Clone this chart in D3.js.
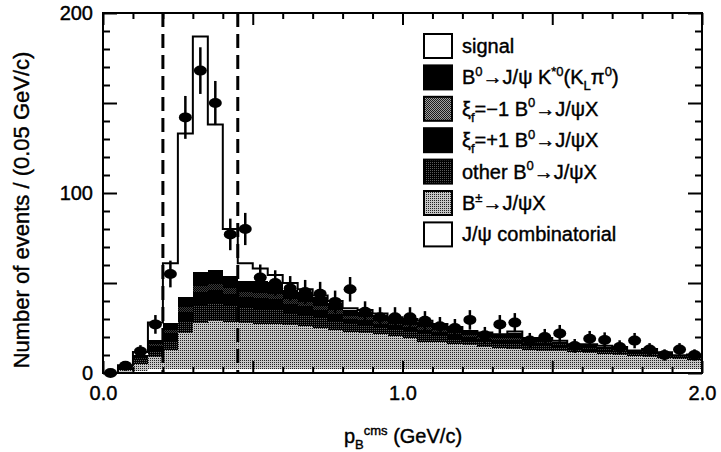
<!DOCTYPE html>
<html>
<head>
<meta charset="utf-8">
<script src="https://cdn.jsdelivr.net/npm/d3@7"></script>
<style>
  body { margin: 0; background: #fff; }
  svg  { display: block; font-family: "Liberation Sans", Arial, Helvetica, sans-serif; }
  text { stroke: #000; stroke-width: 0.4px; }
</style>
</head>
<body>
<svg id="chart" width="721" height="452"></svg>
<script>
// ── data: p_B^cms bins of 0.05 GeV/c (lower edges) ──────────────
const binLo = [0.00,0.05,0.10,0.15,0.20,0.25,0.30,0.35,0.40,0.45,
               0.50,0.55,0.60,0.65,0.70,0.75,0.80,0.85,0.90,0.95,
               1.00,1.05,1.10,1.15,1.20,1.25,1.30,1.35,1.40,1.45,
               1.50,1.55,1.60,1.65,1.70,1.75,1.80,1.85,1.90,1.95];
const binW = 0.05;

// stacked MC components, bottom → top (events / bin)
const comb    = [0,0.5,1,2,2.5,2.5,2.5,2.5,2.5,2.5, 2.5,2.5,2.5,2.5,2.5,2.5,2.5,2.5,2.5,2.5,
                 2.5,2.5,2.5,2.5,2.5,2.5,2.5,2.5,2.5,2.5, 2.5,2.5,2.5,2.5,2.5,2.5,2.5,2.5,2.5,2.5];
const bCharged = [0,1,4,7,10.5,19.5,25.5,26.5,26,25.5, 24.5,24.5,24,23.5,22.5,21.5,20.5,20,19,18,
                  17,15,14.5,13.5,13,12,11.5,11,10.5,10, 9.5,9,8.5,8,7.5,7,6.5,6,5.5,5];
const otherB0 = [0,1,2,3.5,5,7,10,10,9,8, 8.5,8,7,6.5,6,5,4,4,3.5,3.5,
                 3.5,4,3.5,3,2.5,2.5,2.5,3,2,2.5, 2,1.5,1.5,1.5,1.5,1,1.5,1,0.5,1];
const xiPlus  = [0,0.5,1,2.5,4,5,7,7,6.5,6, 6,6,5,5,4,4,3,3,2.5,2.5,
                 2.5,2.5,2.5,2.5,2,2,2,2,1.5,1.5, 1.5,1,1,1,1,0.5,1,0.5,0.5,0.5];
const xiMinus = [0,0.3,0.5,1,2,2.5,3.5,3.5,3,3, 3,3,2.5,2,2,2,1.5,1.5,1.5,1,
                 1,1.5,1,1,1,1,0.8,1,0.7,0.7, 0.6,0.5,0.5,0.5,0.5,0.3,0.5,0.3,0.2,0.3];
const kstar   = [0,0.7,1.5,2.5,4,5.5,7.5,7.5,7,6, 6.5,6.5,5,5.5,5,4,3.5,3,3,3,
                 3,3,2.7,2.5,1.8,2,1.7,3,1.8,1.8, 1.3,1,1.5,1.1,1,0.7,0.8,0.7,0.2,0.7];
const signal  = [0,0.3,1.7,9.5,33,91,131,81,26,10, 7,4,4,1.5,1,1,1,1,1,0.5,
                 0.5,0.5,0.5,0.5,0.5,0.5,0.5,0.5,0.5,0.5, 0.5,0.5,0.5,0.5,0.5,0.5,0.5,0.5,0.5,0.3];

// data points
const dataN = [0,4,12,27,55,142,168,150,77,80, 53,50,47,45,44,39.5,46.5,34,31,31,
               31,29,26,25,29.5,21,27,28,18,20, 22,15,19,18.3,14.4,18,13,10,13,10];

// signal-region cuts
const cuts = [0.2, 0.45];

const xMinorTicks = [0.1,0.2,0.3,0.4,0.6,0.7,0.8,0.9,1.1,1.2,1.3,1.4,1.6,1.7,1.8,1.9];
const xMajorTicks = [0, 0.5, 1.0, 1.5, 2.0];
const xLabelled   = [0, 1, 2];
const yMinorTicks = [10,20,30,40,60,70,80,90,110,120,130,140,160,170,180,190];
const yMajorTicks = [0, 50, 100, 150, 200];
const yLabelled   = [0, 100, 200];

// ── layout ────────────────────────────────────────────────────
const X0 = 103, X1 = 702, Y0 = 373, Y1 = 13;
const svg = d3.select("#chart");
const x = d3.scaleLinear().domain([0, 2]).range([X0, X1]);
const y = d3.scaleLinear().domain([0, 200]).range([Y0, Y1]);

// ── fill patterns (scanned stipple look) ──────────────────────
const defs = svg.append("defs");
function mkPattern(id, bg, fg, cells) {
  const p = defs.append("pattern").attr("id", id)
    .attr("patternUnits", "userSpaceOnUse").attr("width", 2).attr("height", 2);
  p.append("rect").attr("width", 2).attr("height", 2).attr("fill", bg);
  cells.forEach(([cx, cy]) => p.append("rect").attr("x", cx).attr("y", cy)
    .attr("width", 1).attr("height", 1).attr("fill", fg));
}
mkPattern("pat-bpm",   "#c6c6c6", "#222", [[0, 0]]);
mkPattern("pat-other", "#000",    "#5a5a5a", [[0, 0]]);
mkPattern("pat-xim",   "#a0a0a0", "#1a1a1a", [[0, 0], [1, 1]]);
mkPattern("pat-xim-h", "#3a3a3a", "#000",    [[0, 0], [1, 1]]);

const layers = [
  { key: "comb",     values: comb,     fill: "#fff" },
  { key: "bCharged", values: bCharged, fill: "url(#pat-bpm)" },
  { key: "otherB0",  values: otherB0,  fill: "url(#pat-other)" },
  { key: "xiPlus",   values: xiPlus,   fill: "#000" },
  { key: "xiMinus",  values: xiMinus,  fill: "url(#pat-xim-h)" },
  { key: "kstar",    values: kstar,    fill: "#000" },
  { key: "signal",   values: signal,   fill: "#fff" },
];

const rows = binLo.map((lo, i) => {
  const r = { lo };
  layers.forEach(l => { r[l.key] = l.values[i]; });
  return r;
});
const stacked = d3.stack().keys(layers.map(l => l.key))(rows);

// step outline points for a histogram layer
function stepPts(layer) {
  const pts = [];
  layer.forEach((d, i) => {
    pts.push({ x: binLo[i],        y0: d[0], y1: d[1] });
    pts.push({ x: binLo[i] + binW, y0: d[0], y1: d[1] });
  });
  return pts;
}
const area = d3.area().x(p => x(p.x)).y0(p => y(p.y0)).y1(p => y(p.y1));
const line = d3.line().x(p => x(p.x)).y(p => y(p.y1));

const histG = svg.append("g");
stacked.forEach((layer, k) => {
  histG.append("path")
    .attr("d", area(stepPts(layer)))
    .attr("fill", layers[k].fill)
    .attr("shape-rendering", "crispEdges");
});
// outline of the total (signal on top)
const topLayer = stacked[stacked.length - 1];
const outline = stepPts(topLayer);
outline.unshift({ x: 0, y1: 0 });
outline.push({ x: 2, y1: 0 });
histG.append("path")
  .attr("d", line(outline))
  .attr("fill", "none").attr("stroke", "#000").attr("stroke-width", 2);

// ── dashed signal-region cuts ─────────────────────────────────
svg.append("g").selectAll("line").data(cuts).join("line")
  .attr("x1", d => x(d)).attr("x2", d => x(d))
  .attr("y1", y(200)).attr("y2", y(0))
  .attr("stroke", "#000").attr("stroke-width", 3)
  .attr("stroke-dasharray", "14,7");

// ── data points with sqrt(N) errors ──────────────────────────
const ptG = svg.append("g");
dataN.forEach((n, i) => {
  const cx = x(binLo[i] + binW / 2);
  const e = Math.sqrt(n);
  if (e > 0) {
    ptG.append("line").attr("x1", cx).attr("x2", cx)
      .attr("y1", y(n + e)).attr("y2", y(Math.max(0, n - e)))
      .attr("stroke", "#000").attr("stroke-width", 2.5);
  }
  ptG.append("ellipse").attr("cx", cx).attr("cy", y(n))
    .attr("rx", 6.5).attr("ry", 5).attr("fill", "#000");
});

// ── axes (inward ticks on all four sides) ─────────────────────
function styleAxis(g) {
  g.select(".domain").remove();
  g.selectAll(".tick line").attr("stroke", "#000").attr("stroke-width", 2);
  g.selectAll(".tick text").attr("fill", "#000").attr("font-size", 20)
    .attr("font-family", "Liberation Sans, Arial, sans-serif");
}
const fmtX = d => xLabelled.includes(d) ? d3.format(".1f")(d) : "";
const fmtY = d => yLabelled.includes(d) ? String(d) : "";

svg.append("g").attr("transform", `translate(0,${Y0})`)
  .call(d3.axisBottom(x).tickValues(xMinorTicks).tickSize(-6).tickFormat("")).call(styleAxis);
svg.append("g").attr("transform", `translate(0,${Y0})`)
  .call(d3.axisBottom(x).tickValues(xMajorTicks).tickSize(-12).tickPadding(13).tickFormat(fmtX)).call(styleAxis);
svg.append("g").attr("transform", `translate(0,${Y1})`)
  .call(d3.axisTop(x).tickValues(xMinorTicks).tickSize(-6).tickFormat("")).call(styleAxis);
svg.append("g").attr("transform", `translate(0,${Y1})`)
  .call(d3.axisTop(x).tickValues(xMajorTicks).tickSize(-12).tickFormat("")).call(styleAxis);

svg.append("g").attr("transform", `translate(${X0},0)`)
  .call(d3.axisLeft(y).tickValues(yMinorTicks).tickSize(-7).tickFormat("")).call(styleAxis);
svg.append("g").attr("transform", `translate(${X0},0)`)
  .call(d3.axisLeft(y).tickValues(yMajorTicks).tickSize(-14).tickPadding(10).tickFormat(fmtY)).call(styleAxis);
svg.append("g").attr("transform", `translate(${X1},0)`)
  .call(d3.axisRight(y).tickValues(yMinorTicks).tickSize(-7).tickFormat("")).call(styleAxis);
svg.append("g").attr("transform", `translate(${X1},0)`)
  .call(d3.axisRight(y).tickValues(yMajorTicks).tickSize(-14).tickFormat("")).call(styleAxis);

// frame
svg.append("rect").attr("x", X0).attr("y", Y1)
  .attr("width", X1 - X0).attr("height", Y0 - Y1)
  .attr("fill", "none").attr("stroke", "#000").attr("stroke-width", 2);

// ── rich text helper (sup / sub segments) ─────────────────────
function richText(sel, segs, size) {
  let shift = 0;
  segs.forEach(([t, kind]) => {
    const want = kind === "sup" ? -0.42 * size : kind === "sub" ? 0.3 * size : 0;
    sel.append("tspan")
      .attr("dy", want - shift)
      .attr("font-size", kind ? size * 0.65 : size)
      .text(t);
    shift = want;
  });
}

// axis titles
const xt = svg.append("text").attr("x", 403).attr("y", 443)
  .attr("text-anchor", "middle").attr("font-size", 20).attr("fill", "#000");
richText(xt, [["p"], ["B", "sub"], ["cms", "sup"], [" (GeV/c)"]], 20);

svg.append("text")
  .attr("transform", "translate(29,210) rotate(-90)")
  .attr("text-anchor", "middle").attr("font-size", 22).attr("fill", "#000")
  .text("Number of events / (0.05 GeV/c)");

// ── legend ───────────────────────────────────────────────────
const legendRows = [
  { fill: "#fff",             segs: [["signal"]] },
  { fill: "#000",             segs: [["B"], ["0", "sup"], ["→J/ψ K"], ["*0", "sup"], ["(K"], ["L", "sub"], ["π"], ["0", "sup"], [")"]] },
  { fill: "url(#pat-xim)",    segs: [["ξ"], ["f", "sub"], ["=−1 B"], ["0", "sup"], ["→J/ψX"]] },
  { fill: "#000",             segs: [["ξ"], ["f", "sub"], ["=+1 B"], ["0", "sup"], ["→J/ψX"]] },
  { fill: "url(#pat-other)",  segs: [["other B"], ["0", "sup"], ["→J/ψX"]] },
  { fill: "url(#pat-bpm)",    segs: [["B"], ["±", "sup"], ["→J/ψX"]] },
  { fill: "#fff",             segs: [["J/ψ combinatorial"]] },
];
const legG = svg.append("g");
legendRows.forEach((r, i) => {
  const cy = 46 + i * 31.4;
  legG.append("rect").attr("x", 424).attr("y", cy - 12)
    .attr("width", 28).attr("height", 24)
    .attr("fill", r.fill).attr("stroke", "#000").attr("stroke-width", 2);
  const t = legG.append("text").attr("x", 462).attr("y", cy + 7)
    .attr("font-size", 20).attr("fill", "#000");
  richText(t, r.segs, 20);
});
</script>
</body>
</html>
